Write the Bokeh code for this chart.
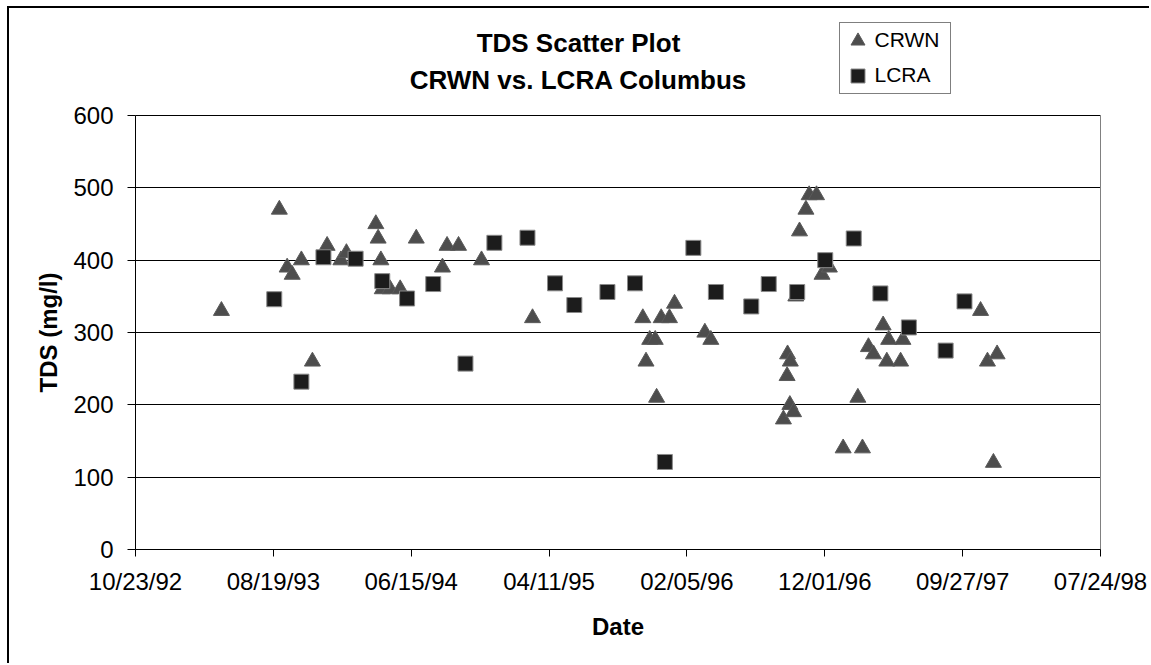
import math
import pandas as pd
from bokeh.plotting import figure
from bokeh.models import (Range1d, FixedTicker, DatetimeTickFormatter, Label,
                          Legend, LegendItem, ColumnDataSource)
from bokeh.embed import file_html
from bokeh.resources import INLINE

# ---------------- data ----------------
crwn_dates = [
    "1993-04-28", "1993-09-01", "1993-09-18", "1993-09-29", "1993-10-19", "1993-11-12",
    "1993-12-14", "1994-01-13", "1994-01-25", "1994-03-30", "1994-04-04", "1994-04-10",
    "1994-04-13", "1994-04-30", "1994-05-22", "1994-06-26", "1994-08-22", "1994-09-01",
    "1994-09-26", "1994-11-15", "1995-03-06", "1995-11-01", "1995-11-08", "1995-11-16",
    "1995-11-28", "1995-12-01", "1995-12-11", "1995-12-29", "1996-01-09", "1996-03-15",
    "1996-03-28", "1996-09-02", "1996-09-10", "1996-09-11", "1996-09-17", "1996-09-16",
    "1996-09-24", "1996-09-29", "1996-10-07", "1996-10-21", "1996-10-28", "1996-11-13",
    "1996-11-25", "1996-12-11", "1997-01-10", "1997-02-11", "1997-02-21", "1997-03-06",
    "1997-03-17", "1997-04-07", "1997-04-15", "1997-04-19", "1997-05-15", "1997-05-20",
    "1997-11-05", "1997-11-20", "1997-12-03", "1997-12-11",
]
crwn_tds = [
    330, 470, 390, 380, 400, 260,
    420, 400, 410, 450, 430, 400,
    360, 360, 360, 430, 390, 420,
    420, 400, 320, 320, 260, 290,
    290, 210, 320, 320, 340, 300,
    290, 180, 240, 270, 260, 200,
    190, 350, 440, 470, 490, 490,
    380, 390, 140, 210, 140, 280,
    270, 310, 260, 290, 260, 290,
    330, 260, 120, 270,
]

lcra_dates = [
    "1993-08-21", "1993-10-19", "1993-12-06", "1994-02-14", "1994-04-13", "1994-06-06",
    "1994-08-02", "1994-10-11", "1994-12-13", "1995-02-23", "1995-04-24", "1995-06-05",
    "1995-08-16", "1995-10-15", "1995-12-19", "1996-02-19", "1996-04-08", "1996-06-24",
    "1996-08-01", "1996-10-02", "1996-12-02", "1997-02-02", "1997-04-01", "1997-06-02",
    "1997-08-21", "1997-10-01",
]
lcra_tds = [
    346, 232, 404, 402, 371, 347,
    367, 257, 424, 431, 368, 338,
    356, 368, 121, 417, 356, 336,
    367, 356, 400, 430, 354, 307,
    275, 343,
]

x_tick_labels = ["10/23/92", "08/19/93", "06/15/94", "04/11/95",
                 "02/05/96", "12/01/96", "09/27/97", "07/24/98"]
y_ticks = [0, 100, 200, 300, 400, 500, 600]

title_lines = ["TDS Scatter Plot", "CRWN vs. LCRA Columbus"]
series_names = ["CRWN", "LCRA"]
x_title = "Date"
y_title = "TDS (mg/l)"

# ---------------- layout (pixels in the canvas) ----------------
W, H = 1142, 657
PLOT_L, PLOT_R = 126, 1091     # canvas x of first / last date tick
PLOT_T, PLOT_B = 107, 541      # canvas y of top / bottom value tick

EPOCH = pd.Timestamp("1970-01-01")


def to_ms(ts):
    return (ts - EPOCH) / pd.Timedelta(milliseconds=1)


tick_ts = pd.to_datetime(x_tick_labels, format="%m/%d/%y")
tick_ms = [to_ms(t) for t in tick_ts]

ms_per_px = (tick_ms[-1] - tick_ms[0]) / (PLOT_R - PLOT_L)
x_start = tick_ms[0] - PLOT_L * ms_per_px
x_end = x_start + W * ms_per_px
v_per_px = (y_ticks[-1] - y_ticks[0]) / (PLOT_B - PLOT_T)
y_start = y_ticks[0] - (H - PLOT_B) * v_per_px
y_end = y_ticks[-1] + PLOT_T * v_per_px


def cx(px):   # canvas x -> data x
    return x_start + px * ms_per_px


def cy(py):   # canvas y -> data y
    return y_end - py * v_per_px


crwn_src = ColumnDataSource(dict(x=pd.to_datetime(crwn_dates), y=crwn_tds))
lcra_src = ColumnDataSource(dict(x=pd.to_datetime(lcra_dates), y=lcra_tds))

FONT = "Liberation Sans"

p = figure(
    width=W, height=H,
    x_axis_type="datetime",
    x_range=Range1d(x_start, x_end),
    y_range=Range1d(y_start, y_end),
    output_backend="svg", toolbar_location=None,
    min_border_left=0, min_border_right=0,
    min_border_top=0, min_border_bottom=0,
    background_fill_color="white", border_fill_color="white",
)
p.styles = {"margin-left": "7px", "margin-top": "6px",
            "border-left": "2px solid #000000", "border-top": "2px solid #000000"}
p.outline_line_color = None

# grid: horizontal lines only, limited to the plot area
p.xgrid.visible = False
p.ygrid.ticker = FixedTicker(ticks=y_ticks)
p.ygrid.grid_line_color = "#000000"
p.ygrid.grid_line_width = 1
try:
    p.ygrid.cross_bounds = (tick_ms[0], tick_ms[-1])
    p.ygrid.bounds = (y_ticks[0], y_ticks[-1])
except Exception:
    p.ygrid.visible = False
    p.segment(x0=[tick_ms[0]] * len(y_ticks), y0=y_ticks,
              x1=[tick_ms[-1]] * len(y_ticks), y1=y_ticks,
              line_color="#000000", line_width=1)

# axes at fixed locations, bounded to the plot area
p.xaxis.ticker = FixedTicker(ticks=tick_ms)
fmt = "%m/%d/%y"
p.xaxis.formatter = DatetimeTickFormatter(
    microseconds=fmt, milliseconds=fmt, seconds=fmt, minsec=fmt, minutes=fmt,
    hourmin=fmt, hours=fmt, days=fmt, months=fmt, years=fmt)
p.yaxis.ticker = FixedTicker(ticks=y_ticks)
p.xaxis.fixed_location = y_ticks[0]
p.yaxis.fixed_location = tick_ms[0]
p.xaxis.bounds = (tick_ms[0], tick_ms[-1])
p.yaxis.bounds = (y_ticks[0], y_ticks[-1])

for ax in (p.xaxis[0], p.yaxis[0]):
    ax.axis_line_color = "#000000"
    ax.axis_line_width = 1
    ax.major_tick_line_color = "#000000"
    ax.major_tick_in = 0
    ax.minor_tick_line_color = None
    ax.major_label_text_font = FONT
    ax.major_label_text_font_size = "24px"
    ax.major_label_text_color = "#000000"

p.xaxis.major_tick_out = 7
p.yaxis.major_tick_out = 8
p.xaxis.major_label_standoff = 11
p.yaxis.major_label_standoff = 14

# right edge of plot area
p.segment(x0=[tick_ms[-1]], y0=[y_ticks[0]], x1=[tick_ms[-1]], y1=[y_ticks[-1]],
          line_color="#808080", line_width=1)

# data
r_crwn = p.scatter("x", "y", source=crwn_src, marker="triangle", size=16,
                   fill_color="#4d4d4d", line_color="#5a5a5a", line_width=1)
r_lcra = p.scatter("x", "y", source=lcra_src, marker="square", size=15,
                   fill_color="#1c1c1c", line_color="#8a8a8a", line_width=1)


# titles (positions are the visual centres of the texts)
def add_text(text, px, py, size, bold=True, angle=0.0):
    p.add_layout(Label(x=cx(px), y=cy(py), text=text, text_align="center",
                       text_baseline="middle", text_font=FONT,
                       text_font_style="bold" if bold else "normal",
                       text_font_size=size, text_color="#000000", angle=angle))


add_text(title_lines[0], 569, 34.5, "26px")
add_text(title_lines[1], 569, 71.2, "26px")
add_text(x_title, (PLOT_L + PLOT_R) / 2, 618.2, "24px")
add_text(y_title, 39, (PLOT_T + PLOT_B) / 2, "24px", angle=math.pi / 2)

# legend
legend = Legend(
    items=[LegendItem(label=series_names[0], renderers=[r_crwn]),
           LegendItem(label=series_names[1], renderers=[r_lcra])],
    location=(829.5, H - 85.5),
    orientation="vertical",
    glyph_width=35, glyph_height=35,
    label_standoff=0, label_width=75, label_height=20,
    spacing=0, padding=0, margin=0,
    label_text_font=FONT, label_text_font_size="21px", label_text_color="#000000",
    border_line_color="#000000", border_line_width=1,
    background_fill_color="white", background_fill_alpha=1,
)
p.add_layout(legend, "center")

open("out.html", "w").write(file_html(p, INLINE))
